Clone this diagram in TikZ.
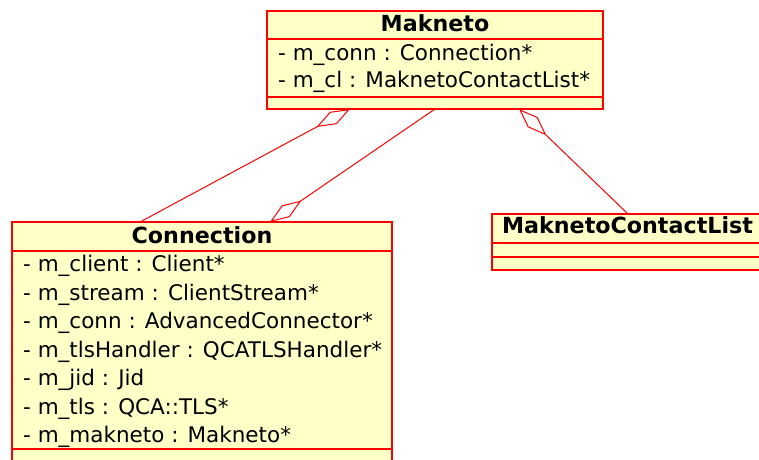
\documentclass[tikz,border=0pt]{standalone}
\usepackage{fontspec}
\setmainfont{DejaVu Sans}
\usetikzlibrary{arrows.meta}
\definecolor{umlfill}{RGB}{255,255,200}
\definecolor{umlred}{RGB}{255,0,0}
\begin{document}
\begin{tikzpicture}[x=1pt,y=-1pt,
  umlbox/.style={draw=umlred, fill=umlfill, line width=1.6pt, inner sep=0pt, outer sep=0pt, anchor=north west},
  sepline/.style={draw=umlred, line width=1.2pt},
  umltitle/.style={font=\fontsize{22.2}{26}\selectfont\bfseries, inner sep=0pt, anchor=base},
  umlattr/.style={font=\fontsize{21.5}{25}\selectfont, inner sep=0pt, anchor=base west},
  assoc/.style={draw=umlred, line width=1pt},
  aggtip/.tip={Diamond[open, length=38pt, width=14pt]}
]
\useasboundingbox (0,0) rectangle (759,459);
\clip (0,0) rectangle (759,459);

% Makneto
\node[umlbox, minimum width=336pt, minimum height=98pt] (mak) at (267,11) {};
\draw[sepline] (267,39) -- (603,39);
\draw[sepline] (267,97) -- (603,97);
\node[umltitle] (makT) at (435,31) {Makneto};
\node[umlattr] (mak1) at (278,60) {- m\_conn : Connection*};
\node[umlattr] (mak2) at (278,87.5) {- m\_cl : MaknetoContactList*};

% Connection
\node[umlbox, minimum width=380pt, minimum height=260pt] (con) at (12,222) {};
\draw[sepline] (12,251) -- (392,251);
\draw[sepline] (12,449) -- (392,449);
\node[umltitle] (conT) at (202,243) {Connection};
\node[umlattr] (con1) at (23,271.7) {- m\_client : Client*};
\node[umlattr] (con2) at (23,300.2) {- m\_stream : ClientStream*};
\node[umlattr] (con3) at (23,328.7) {- m\_conn : AdvancedConnector*};
\node[umlattr] (con4) at (23,357.2) {- m\_tlsHandler : QCATLSHandler*};
\node[umlattr] (con5) at (23,385.7) {- m\_jid : Jid};
\node[umlattr] (con6) at (23,414.2) {- m\_tls : QCA::TLS*};
\node[umlattr] (con7) at (23,442.7) {- m\_makneto : Makneto*};

% MaknetoContactList
\node[umlbox, minimum width=271pt, minimum height=56pt] (mcl) at (492,214) {};
\draw[sepline] (492,243) -- (763,243);
\draw[sepline] (492,257) -- (763,257);
\node[umltitle] (mclT) at (627.5,233.5) {MaknetoContactList};

% connectors
\draw[assoc, {aggtip}-] ([xshift=83pt]mak.south west) -- ([xshift=128pt]con.north west);
\draw[assoc, -{aggtip}] (mak.south) -- ([xshift=258pt]con.north west);
\draw[assoc, {aggtip}-] ([xshift=252pt]mak.south west) -- ([xshift=136pt]mcl.north west);
\end{tikzpicture}
\end{document}
